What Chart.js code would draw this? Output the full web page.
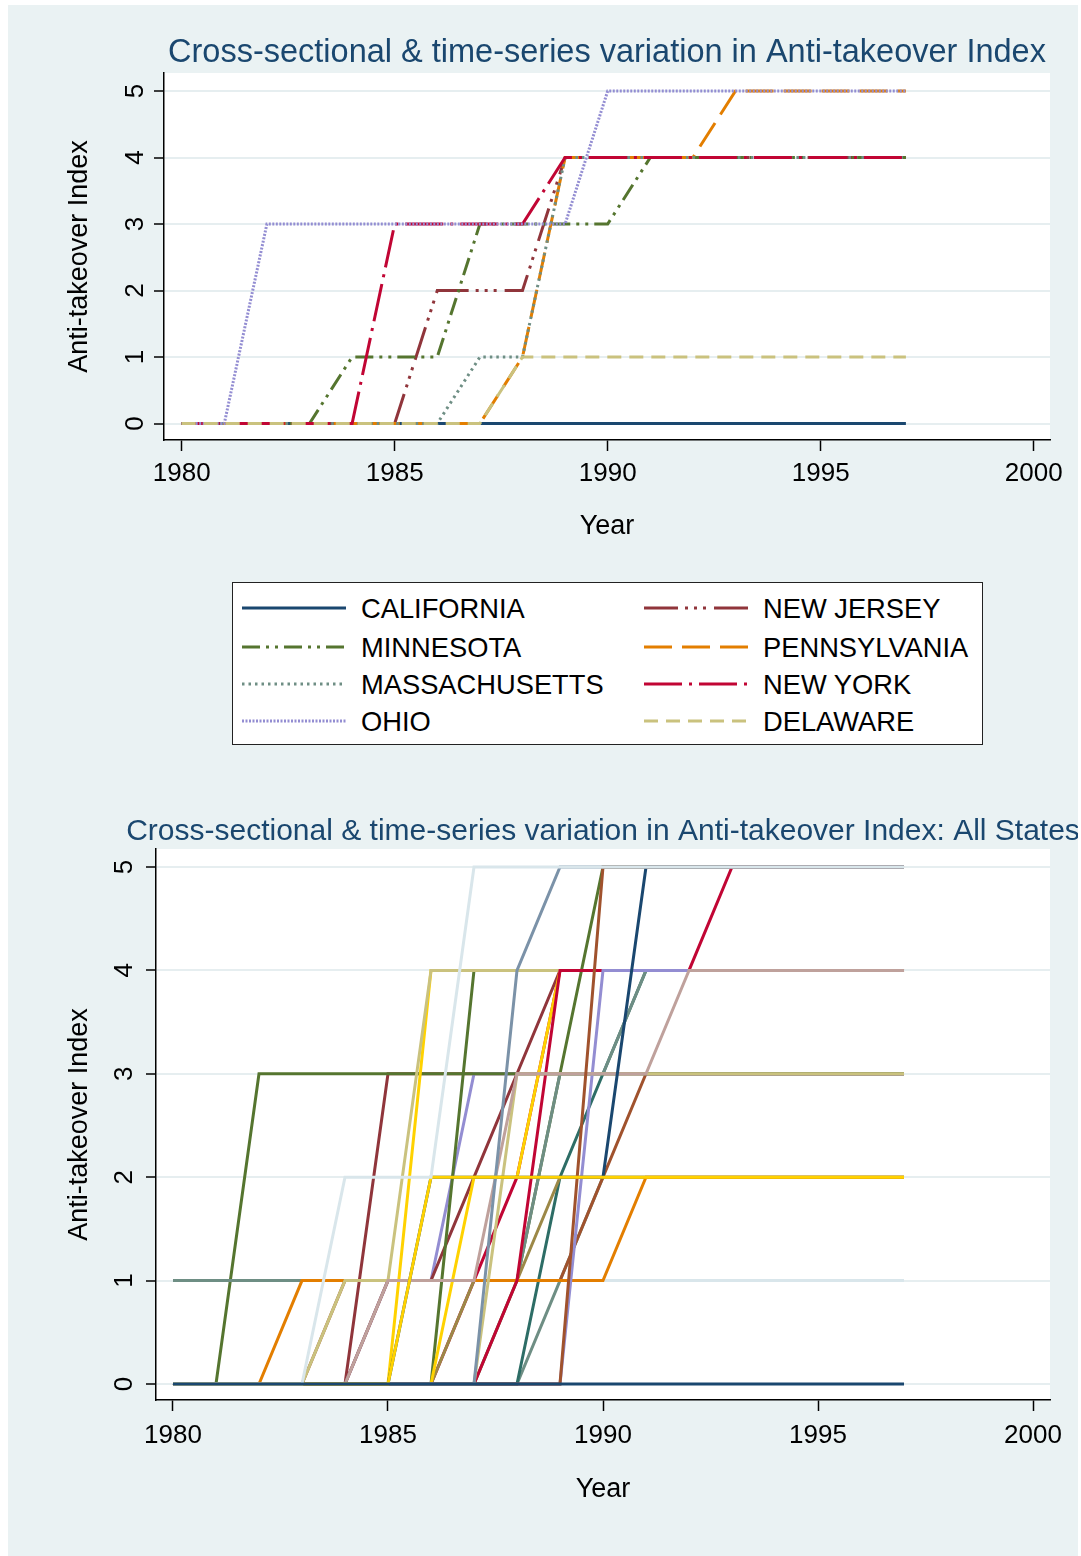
<!DOCTYPE html>
<html>
<head>
<meta charset="utf-8">
<script src="https://cdn.jsdelivr.net/npm/chart.js@4.4.1/dist/chart.umd.min.js"></script>
<style>
  html, body { margin:0; padding:0; background:#ffffff; width:1081px; height:1556px; overflow:hidden; }
  #bg { position:absolute; left:8px; top:5px; width:1070px; height:1551px; background:#EAF2F3; overflow:hidden; }
  canvas { position:absolute; left:0; }
  #legend { position:absolute; left:224px; top:577px; width:751px; height:163px; box-sizing:border-box;
            background:#ffffff; border:1px solid #222; font-family:'Liberation Sans', Arial, sans-serif; }
  .lt { position:absolute; height:32px; line-height:32px; font-size:27.3px; color:#000; white-space:nowrap; }
  .ls { position:absolute; }
</style>
</head>
<body>
<div id="bg">
  <canvas id="c1" width="1070" height="555" style="top:0px"></canvas>
  <div id="legend"></div>
  <canvas id="c2" width="1070" height="776" style="top:775px"></canvas>
</div>
<script>
// ---------------- DATA ----------------
const years = [1980,1981,1982,1983,1984,1985,1986,1987,1988,1989,1990,1991,1992,1993,1994,1995,1996,1997];
const xTicks = [1980,1985,1990,1995,2000];
const yTicks = [0,1,2,3,4,5];

// Top chart: selected states (Stata drawing order)
const california    = [0,0,0,0,0,0,0,0,0,0,0,0,0,0,0,0,0,0];
const newJersey     = [0,0,0,0,0,0,2,2,2,4,4,4,4,4,4,4,4,4];
const minnesota     = [0,0,0,0,1,1,1,3,3,3,3,4,4,4,4,4,4,4];
const pennsylvania  = [0,0,0,0,0,0,0,0,1,4,4,4,4,5,5,5,5,5];
const massachusetts = [0,0,0,0,0,0,0,1,1,4,4,4,4,4,4,4,4,4];
const newYork       = [0,0,0,0,0,3,3,3,3,4,4,4,4,4,4,4,4,4];
const ohio          = [0,0,3,3,3,3,3,3,3,3,5,5,5,5,5,5,5,5];
const delaware      = [0,0,0,0,0,0,0,0,1,1,1,1,1,1,1,1,1,1];

// Bottom chart: all states (listed in drawing order, bottom to top)
const st01 = [1,1,1,1,1,1,1,1,1,1,1,1,1,1,1,1,1,1];
const st02 = [0,0,0,0,0,0,0,0,0,1,2,2,2,2,2,2,2,2];
const st03 = [0,0,0,0,1,1,1,1,1,1,2,3,3,3,3,3,3,3];
const st04 = [0,0,0,0,0,3,3,3,3,3,3,3,3,3,3,3,3,3];
const st05 = [0,0,0,0,0,1,1,3,3,3,3,3,3,3,3,3,3,3];
const st06 = [0,0,3,3,3,3,3,3,3,3,3,3,3,3,3,3,3,3];
const st07 = [0,0,0,0,0,1,1,2,3,4,4,4,4,4,4,4,4,4];
const st08 = [0,0,0,0,0,0,0,1,2,4,4,4,4,4,4,4,4,4];
const st09 = [0,0,0,0,0,0,0,0,1,3,5,5,5,5,5,5,5,5];
const st10 = [0,0,0,0,0,0,0,0,0,2,3,4,4,4,4,4,4,4];
const st11 = [1,1,1,1,1,1,1,1,1,3,3,4,4,4,4,4,4,4];
const st12 = [0,0,0,0,0,0,0,1,1,2,2,2,2,2,2,2,2,2];
const st13 = [0,0,0,1,1,1,1,1,1,1,1,2,2,2,2,2,2,2];
const st14 = [0,0,0,0,0,0,4,4,4,4,4,4,4,4,4,4,4,4];
const st15 = [0,0,0,0,0,0,0,4,4,4,4,4,4,4,4,4,4,4];
const st16 = [0,0,0,0,0,0,0,2,2,4,4,4,4,4,4,4,4,4];
const st17 = [0,0,0,0,1,1,4,4,4,4,4,4,4,4,4,4,4,4];
const st18 = [0,0,0,0,0,0,0,0,1,4,4,4,4,5,5,5,5,5];
const st19 = [0,0,0,0,0,0,0,0,0,0,4,4,4,4,4,4,4,4];
const st20 = [0,0,0,0,0,0,0,0,3,3,3,3,3,3,3,3,3,3];
const st21 = [0,0,0,0,0,1,1,1,3,3,3,3,4,4,4,4,4,4];
const st22 = [0,0,0,0,0,0,2,2,2,2,2,5,5,5,5,5,5,5];
const st23 = [0,0,0,0,0,0,0,0,0,0,5,5,5,5,5,5,5,5];
const st24 = [0,0,0,0,0,0,0,0,4,5,5,5,5,5,5,5,5,5];
const st25 = [0,0,0,0,0,0,2,2,2,2,2,2,2,2,2,2,2,2];
const st26 = [0,0,0,0,2,2,2,5,5,5,5,5,5,5,5,5,5,5];
const st27 = [0,0,0,0,0,0,0,0,0,0,0,0,0,0,0,0,0,0];

// ---------------- STYLE ----------------
const C = { navy:'#1A476F', maroon:'#90353B', green:'#55752F', orange:'#E37E00', teal:'#6E8E84',
            cranberry:'#C10534', lavender:'#938DD2', khaki:'#CAC27E', sienna:'#A0522D', emidblue:'#7B92A8',
            emerald:'#2D6D66', brown:'#9C8847', erose:'#BFA19C', gold:'#FFD200', bluishgray:'#D9E6EB' };

const topSeries = [
  ['CALIFORNIA', california, C.navy, []],
  ['NEW JERSEY', newJersey, C.maroon, [34,7,3,6,3,6,3,8]],
  ['MINNESOTA', minnesota, C.green, [18,6,3,6,3,6]],
  ['PENNSYLVANIA', pennsylvania, C.orange, [28,10]],
  ['MASSACHUSETTS', massachusetts, C.teal, [2.5,4]],
  ['NEW YORK', newYork, C.cranberry, [38,7,3,7]],
  ['OHIO', ohio, C.lavender, [2,1.5]],
  ['DELAWARE', delaware, C.khaki, [14,8]]
];
const legendCols = [['CALIFORNIA','MINNESOTA','MASSACHUSETTS','OHIO'],['NEW JERSEY','PENNSYLVANIA','NEW YORK','DELAWARE']];

const bottomSeries = [
  [st01,C.bluishgray],[st02,C.teal],[st03,C.sienna],[st04,C.maroon],[st05,C.lavender],[st06,C.green],
  [st07,C.maroon],[st08,C.cranberry],[st09,C.green],[st10,C.emerald],[st11,C.teal],[st12,C.brown],
  [st13,C.orange],[st14,C.gold],[st15,C.green],[st16,C.gold],[st17,C.khaki],[st18,C.cranberry],
  [st19,C.lavender],[st20,C.khaki],[st21,C.erose],[st22,C.navy],[st23,C.sienna],[st24,C.emidblue],
  [st25,C.gold],[st26,C.bluishgray],[st27,C.navy]
];

const FONT = "'Liberation Sans', Arial, Helvetica, sans-serif";
Chart.defaults.font.family = FONT;
Chart.defaults.color = '#000';

const pts = vals => years.map((yr, i) => ({x: yr, y: vals[i]}));

const plotBg = {
  id: 'plotBg',
  beforeDraw(chart) {
    const a = chart.chartArea, ctx = chart.ctx;
    ctx.save(); ctx.fillStyle = '#ffffff';
    ctx.fillRect(a.left, a.top, a.right - a.left, a.bottom - a.top);
    ctx.restore();
  },
  afterLayout(chart) {
    const t = chart.titleBlock;
    if (t) { t.left -= 300; t.right += 300; }
  }
};

function makeOptions(cfg) {
  return {
    responsive: false, devicePixelRatio: 1, animation: false,
    layout: { padding: { left: 0, right: 28, top: 0, bottom: 0 } },
    plugins: {
      legend: { display: false }, tooltip: { enabled: false },
      title: { display: true, text: cfg.title, color: '#1A476F', fullSize: false,
               font: { size: cfg.titleSize, weight: 'normal', lineHeight: 1 },
               padding: { top: cfg.titlePadTop, bottom: cfg.titlePadBottom } }
    },
    elements: { point: { radius: 0 }, line: { tension: 0, borderWidth: 3 } },
    scales: {
      x: {
        type: 'linear', min: cfg.xmin, max: cfg.xmax,
        afterBuildTicks: s => { s.ticks = xTicks.map(v => ({value: v})); },
        afterFit: s => { s.height = cfg.xh; s.paddingLeft = 0; s.paddingRight = 0; },
        ticks: { font: { size: 26 }, color: '#000', padding: cfg.xpad, autoSkip: false, maxRotation: 0, minRotation: 0,
                 callback: v => String(v) },
        grid: { drawOnChartArea: false, tickLength: 11, tickColor: '#000', tickWidth: 1.5 },
        border: { display: true, color: '#000', width: 1.5 },
        title: { display: true, text: 'Year', font: { size: 27 }, color: '#000', padding: { top: 0, bottom: cfg.yearPad } }
      },
      y: {
        type: 'linear', min: cfg.ymin, max: cfg.ymax,
        afterBuildTicks: s => { s.ticks = yTicks.map(v => ({value: v})); },
        afterFit: s => { s.width = cfg.yw; s.paddingTop = 0; s.paddingBottom = 0; },
        ticks: { font: { size: 26 }, color: '#000', padding: cfg.ypad, minRotation: 90, maxRotation: 90, crossAlign: 'center',
                 callback: v => String(v) },
        grid: { color: '#E6EEF0', lineWidth: 2, tickLength: 10, tickColor: '#000', tickWidth: 1.5 },
        border: { display: true, color: '#000', width: 1.5 },
        title: { display: true, text: 'Anti-takeover Index', font: { size: 27 }, color: '#000', padding: { top: 55, bottom: 0 } }
      }
    }
  };
}

// ---------------- TOP CHART ----------------
new Chart(document.getElementById('c1'), {
  type: 'line',
  data: {
    datasets: topSeries.map((s, i) => ({
      label: s[0], data: pts(s[1]), borderColor: s[2], backgroundColor: s[2],
      borderDash: s[3], borderWidth: 3, order: -i, fill: false
    }))
  },
  options: makeOptions({
    title: 'Cross-sectional & time-series variation in Anti-takeover Index', titleSize: 32.5,
    titlePadTop: 32.25, titlePadBottom: 3.25,
    xmin: 1979.5845, xmax: 2000.3826, ymin: -0.248, ymax: 5.271,
    xh: 120, xpad: 7, yearPad: 16.8, yw: 156, ypad: 11
  }),
  plugins: [plotBg]
});

// ---------------- LEGEND (top chart) ----------------
(function () {
  const lg = document.getElementById('legend');
  const rowY = [26, 65, 102, 139];
  const colSample = [10, 412];
  const colText = [129, 531];
  legendCols.forEach((col, ci) => {
    col.forEach((name, ri) => {
      const s = topSeries.find(t => t[0] === name);
      const svgNS = 'http://www.w3.org/2000/svg';
      const svg = document.createElementNS(svgNS, 'svg');
      svg.setAttribute('width', '104'); svg.setAttribute('height', '6');
      svg.setAttribute('class', 'ls');
      svg.style.left = (colSample[ci] - 1) + 'px'; svg.style.top = (rowY[ri] - 4) + 'px';
      const ln = document.createElementNS(svgNS, 'line');
      ln.setAttribute('x1', '0'); ln.setAttribute('y1', '3'); ln.setAttribute('x2', '104'); ln.setAttribute('y2', '3');
      ln.setAttribute('stroke', s[2]); ln.setAttribute('stroke-width', '3');
      if (s[3].length) ln.setAttribute('stroke-dasharray', s[3].join(' '));
      svg.appendChild(ln); lg.appendChild(svg);
      const tx = document.createElement('div');
      tx.className = 'lt'; tx.textContent = name;
      tx.style.left = (colText[ci] - 1) + 'px'; tx.style.top = (rowY[ri] - 16) + 'px';
      lg.appendChild(tx);
    });
  });
})();

// ---------------- BOTTOM CHART ----------------
new Chart(document.getElementById('c2'), {
  type: 'line',
  data: {
    datasets: bottomSeries.map((s, i) => ({
      label: 'State ' + (i + 1), data: pts(s[0]), borderColor: s[1], backgroundColor: s[1],
      borderWidth: 3, order: -i, fill: false
    }))
  },
  options: makeOptions({
    title: 'Cross-sectional & time-series variation in Anti-takeover Index: All States', titleSize: 30,
    titlePadTop: 37, titlePadBottom: 2,
    xmin: 1979.605, xmax: 2000.395, ymin: -0.155, ymax: 5.174,
    xh: 156, xpad: 9.4, yearPad: 49.8, yw: 148, ypad: 14
  }),
  plugins: [plotBg]
});
</script>
</body>
</html>
